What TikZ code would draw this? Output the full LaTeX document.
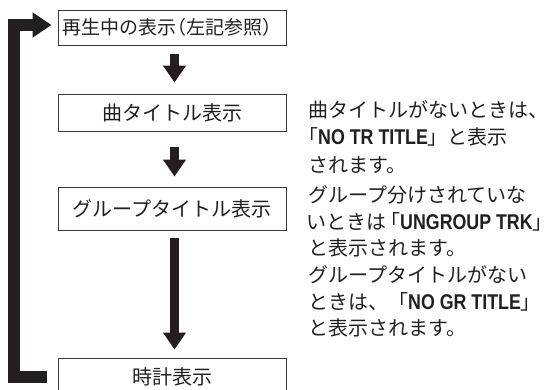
\documentclass[tikz,border=0pt]{standalone}
\usepackage{fontspec}
\usepackage{graphicx}
\setmainfont{Noto Sans CJK JP}
\newfontfamily\latfont{Liberation Sans}
\usetikzlibrary{arrows.meta}
\definecolor{ink}{RGB}{35,31,32}
\newcommand{\latw}[1]{{\latfont\bfseries\fontsize{17.8pt}{20pt}\selectfont\scalebox{1}[1.2]{#1}}}
\begin{document}
\begin{tikzpicture}[x=1pt,y=-1pt,
  jp/.style={text=ink, font=\fontsize{20pt}{24pt}\selectfont},
  box/.style={jp, draw=ink!90, line width=0.9pt, minimum width=228pt, inner sep=0pt},
  flow/.style={draw=ink, line width=9pt, -{Triangle[width=22pt,length=17pt]}},
  loopline/.style={draw=ink, line width=12.5pt, line join=miter, -{Triangle[width=24pt,length=19pt]}},
  note/.style={jp, anchor=base west, inner sep=0pt}
]
\useasboundingbox (0,0) rectangle (554,390);
% boxes
\node[box, minimum height=35pt] (b1) at (172,27.5) {\fontsize{19pt}{24pt}\selectfont 再生中の表示\hspace{-0.45em}（左記参照）\hspace{-0.55em}};
\node[box, minimum height=37pt] (b2) at (172,112.5) {曲タイトル表示};
\node[box, minimum height=43pt] (b3) at (172,208.5) {グループタイトル表示};
\node[box, minimum height=38pt] (b4) at (172,377) {時計表示};
% flow arrows
\draw[flow, shorten <=9pt, shorten >=11pt] ([xshift=2.5pt]b1.south) -- ([xshift=2.5pt]b2.north);
\draw[flow, shorten <=16pt, shorten >=10pt] ([xshift=2.5pt]b2.south) -- ([xshift=2.5pt]b3.north);
\draw[flow, shorten <=8pt, shorten >=8pt] ([xshift=2.5pt]b3.south) -- ([xshift=2.5pt]b4.north);
% return loop
\draw[loopline, shorten >=6pt] ([xshift=-11pt]b4.west) -- ++(-32.5pt,0) |- ([yshift=2.5pt]b1.west);
% notes
\node[note] (n1a) at (308,117.6) {曲タイトルがないときは、};
\node[note] (n1b) at (308,144.9) {\hspace{-0.5em}「\latw{NO TR TITLE}」と表示};
\node[note] (n1c) at (308,172.2) {されます。};
\node[note] (n2a) at (308,202.6) {グループ分けされていな};
\node[note] (n2b) at (306,229.2) {いときは\hspace{-0.3em}「\latw{UNGROUP TRK}」};
\node[note] (n2c) at (308,255.8) {と表示されます。};
\node[note] (n2d) at (308,282.4) {グループタイトルがない};
\node[note] (n2e) at (308,309.0) {ときは、「\latw{NO GR TITLE}」};
\node[note] (n2f) at (308,335.6) {と表示されます。};
\end{tikzpicture}
\end{document}
